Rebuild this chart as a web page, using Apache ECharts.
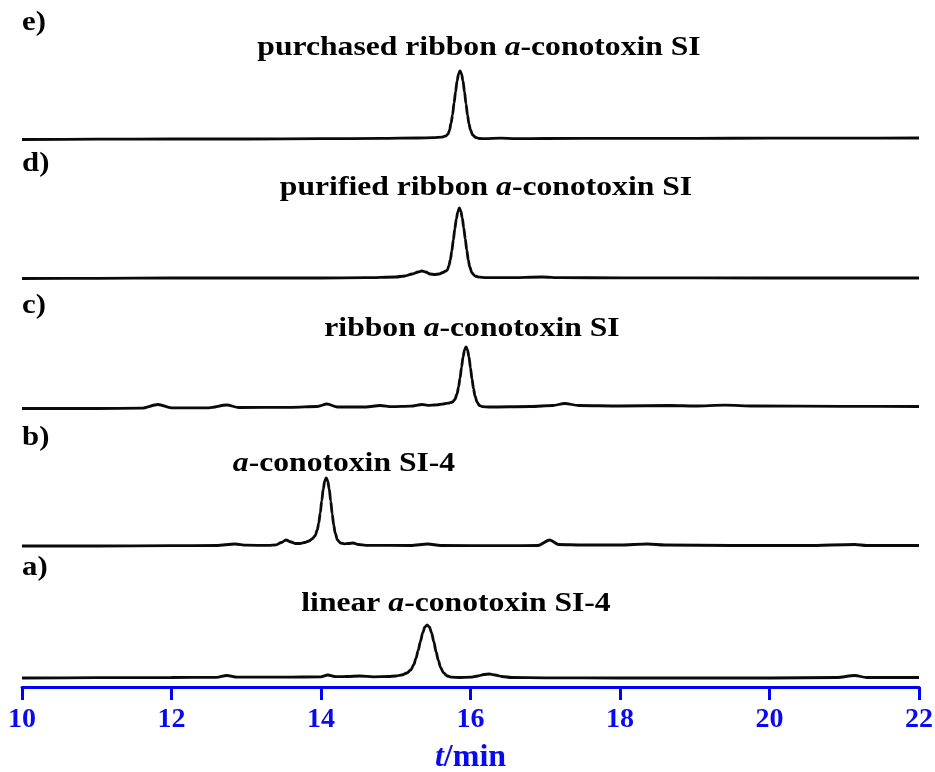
<!DOCTYPE html>
<html>
<head>
<meta charset="utf-8">
<script src="https://cdn.jsdelivr.net/npm/echarts@6/dist/echarts.min.js"></script>
<style>
  html, body { margin: 0; padding: 0; background: #ffffff; }
  #chart { width: 935px; height: 772px; }
</style>
</head>
<body>
<div id="chart"></div>
<script>
// Retention-time axis (min)
const timeMin = 10;
const timeMax = 22;
const timeStep = 2;

// Panel letters, bottom to top
const panelLetters = ['a)', 'b)', 'c)', 'd)', 'e)'];

// Sample names: plain prefix, italic "a", plain suffix
const namePrefix = ['linear ', '', 'ribbon ', 'purified ribbon ', 'purchased ribbon '];
const nameItalic = ['a', 'a', 'a', 'a', 'a'];
const nameSuffix = ['-conotoxin SI-4', '-conotoxin SI-4', '-conotoxin SI', '-conotoxin SI', '-conotoxin SI'];

// HPLC traces: [retention time (min), detector signal (a.u., baseline = 0)]
const traceA = [
  [10, 0], [11, 0.3], [12, 0.5], [12.6, 0.7], [12.74, 2.5], [12.88, 0.8], [13.5, 0.8],
  [14.0, 1.2], [14.09, 3], [14.2, 1.3], [14.35, 1.5], [14.52, 2], [14.7, 1.2], [14.9, 1.5],
  [15.0, 2], [15.08, 3], [15.15, 5], [15.2, 8], [15.24, 13], [15.27, 19.5], [15.3, 27.5],
  [15.33, 36.5], [15.36, 45], [15.39, 51], [15.42, 53], [15.45, 51], [15.48, 45], [15.51, 36],
  [15.54, 26], [15.57, 17.5], [15.6, 10.5], [15.64, 5], [15.69, 2], [15.75, 0.8], [15.85, 0.5],
  [16.0, 0.8], [16.1, 2], [16.18, 3.5], [16.25, 4], [16.33, 3], [16.42, 1.5], [16.55, 0.5],
  [17, 0.2], [18, 0], [19, 0], [20, 0], [20.9, 0.5], [21.14, 2.5], [21.3, 0.5], [22, 0.5]
];
const traceB = [
  [10, 0], [11, 0], [12, 0.3], [12.6, 0.5], [12.85, 2], [13.0, 0.8], [13.3, 0.6], [13.4, 1.2],
  [13.47, 3.5], [13.53, 6], [13.6, 4], [13.66, 2.5], [13.72, 2.5], [13.78, 3.5], [13.84, 5],
  [13.88, 7], [13.92, 10], [13.95, 16], [13.97, 23], [13.99, 33], [14.01, 45], [14.03, 57],
  [14.05, 65], [14.07, 68], [14.09, 65], [14.11, 57], [14.13, 45], [14.15, 32], [14.17, 21],
  [14.19, 13], [14.22, 6], [14.26, 3], [14.31, 2.2], [14.37, 2.5], [14.43, 3], [14.5, 1.5],
  [14.6, 0.6], [15.2, 0.5], [15.43, 2], [15.6, 0.5], [16.5, 0.3], [16.9, 0.5], [17.06, 6],
  [17.18, 1.5], [17.5, 1], [18.0, 1], [18.37, 2], [18.6, 1], [19.5, 0.5], [20.5, 0.5],
  [21.14, 1.5], [21.3, 0.5], [22, 0.5]
];
const traceC = [
  [10, -1.5], [11, -1.5], [11.6, -1.2], [11.82, 2.5], [12.0, -0.8], [12.5, -0.8], [12.74, 2],
  [12.9, -0.5], [13.6, -0.3], [13.95, 0.5], [14.08, 3], [14.22, 0], [14.6, 0], [14.79, 1.5],
  [14.95, 0.3], [15.2, 0.8], [15.35, 2.5], [15.43, 1.6], [15.48, 1.8], [15.55, 2.2], [15.62, 2.8],
  [15.7, 3.8], [15.76, 5], [15.79, 7.5], [15.82, 13], [15.84, 20], [15.86, 29], [15.88, 39.5],
  [15.9, 50], [15.92, 57], [15.94, 60], [15.96, 57], [15.98, 50], [16.0, 39], [16.02, 28],
  [16.04, 18.5], [16.06, 11], [16.09, 4.5], [16.12, 1.5], [16.16, 0.3], [16.25, 0],
  [16.8, 0.5], [17.1, 1.5], [17.26, 3.5], [17.45, 1.5], [18.0, 1], [18.67, 1.5], [19.0, 1],
  [19.4, 1.8], [19.8, 1], [21, 0.7], [22, 0.5]
];
const traceD = [
  [10, -0.5], [11, -0.3], [12, 0], [13, 0], [14, 0], [14.6, 0.3], [15.0, 1], [15.12, 2],
  [15.22, 4], [15.3, 6], [15.35, 7], [15.4, 6], [15.46, 4], [15.52, 3.5], [15.58, 4],
  [15.63, 5.5], [15.67, 7], [15.69, 8], [15.71, 12], [15.73, 18], [15.75, 27], [15.77, 38],
  [15.79, 49], [15.81, 59], [15.83, 66], [15.85, 70], [15.87, 67], [15.89, 60], [15.91, 50],
  [15.93, 39], [15.95, 28], [15.97, 18], [15.99, 11], [16.02, 5], [16.06, 2], [16.12, 0.8],
  [16.2, 0.3], [16.5, 0.3], [16.96, 1], [17.2, 0.3], [18, 0.2], [20, 0], [22, 0]
];
const traceE = [
  [10, -0.5], [11, -0.2], [12, 0], [13, 0], [14, 0.3], [14.8, 0.6], [15.3, 1], [15.5, 1.3],
  [15.62, 1.8], [15.67, 3], [15.7, 5], [15.72, 9], [15.74, 16], [15.76, 24], [15.78, 36],
  [15.8, 47], [15.82, 58], [15.84, 65], [15.86, 68], [15.88, 65], [15.9, 58], [15.92, 47],
  [15.94, 35], [15.96, 24], [15.98, 15], [16.0, 9], [16.03, 4], [16.07, 1.5], [16.12, 0.5],
  [16.2, 0.3], [16.4, 0.8], [16.6, 0.4], [17, 0.5], [18, 0.6], [19, 0.7], [20, 0.8],
  [21, 0.9], [22, 1]
];
const traces = [traceA, traceB, traceC, traceD, traceE];

// Layout: baseline pixel row of each panel, label and name anchors
const baselineY = [678, 546, 407, 278, 139];
const letterY = [568, 438, 306, 164, 23];
const nameX = [456, 344, 472, 486, 479];
const nameY = [604, 464, 329, 188, 48];

const serif = '"Liberation Serif", "Times New Roman", serif';
const blue = '#0a0aef';

const grids = [], xAxes = [], yAxes = [], series = [], graphics = [];

traces.forEach(function (trace, i) {
  grids.push({
    left: 22, right: 16, top: baselineY[i] - 100, height: 109,
    containLabel: false, outerBoundsMode: 'none'
  });
  const isBottom = i === 0;
  xAxes.push({
    type: 'value', gridIndex: i, min: timeMin, max: timeMax, interval: timeStep,
    show: isBottom,
    axisLine: { show: true, onZero: false, lineStyle: { color: '#0000ff', width: 3 } },
    axisTick: { show: true, length: 13, lineStyle: { color: '#0000ff', width: 3 } },
    axisLabel: { color: blue, fontFamily: serif, fontWeight: 'bold', fontSize: 28, margin: 19 },
    splitLine: { show: false },
    name: isBottom ? '{t|t}{m|/min}' : '',
    nameLocation: 'middle',
    nameGap: 55,
    nameTextStyle: {
      rich: {
        t: { color: blue, fontFamily: serif, fontWeight: 'bold', fontStyle: 'italic', fontSize: 32 },
        m: { color: blue, fontFamily: serif, fontWeight: 'bold', fontSize: 32 }
      }
    }
  });
  yAxes.push({ type: 'value', gridIndex: i, min: -9, max: 100, show: false, splitLine: { show: false } });
  series.push({
    type: 'line', xAxisIndex: i, yAxisIndex: i, data: trace,
    showSymbol: false, smooth: 0.3, smoothMonotone: 'x', animation: false,
    lineStyle: { color: '#0a0a0a', width: 2.8 }
  });

  // panel letter
  graphics.push({
    type: 'text', x: 22, y: letterY[i], scaleX: 1.1,
    style: {
      text: panelLetters[i], font: 'bold 28px ' + serif, fill: '#000',
      align: 'left', verticalAlign: 'middle', textAlign: 'left', textVerticalAlign: 'middle'
    }
  });
  // sample name
  graphics.push({
    type: 'text', x: nameX[i], y: nameY[i], scaleX: 1.13,
    style: {
      text: '{b|' + namePrefix[i] + '}{i|' + nameItalic[i] + '}{b|' + nameSuffix[i] + '}',
      fill: '#000', font: 'bold 28px ' + serif,
      align: 'center', verticalAlign: 'middle', textAlign: 'center', textVerticalAlign: 'middle',
      rich: {
        b: { fontFamily: serif, fontWeight: 'bold', fontSize: 28, fill: '#000', color: '#000' },
        i: { fontFamily: serif, fontWeight: 'bold', fontStyle: 'italic', fontSize: 28, fill: '#000', color: '#000' }
      }
    }
  });
});

const chart = echarts.init(document.getElementById('chart'), null, { renderer: 'canvas' });
chart.setOption({
  backgroundColor: '#ffffff',
  animation: false,
  grid: grids,
  xAxis: xAxes,
  yAxis: yAxes,
  series: series,
  graphic: graphics
});
</script>
</body>
</html>
